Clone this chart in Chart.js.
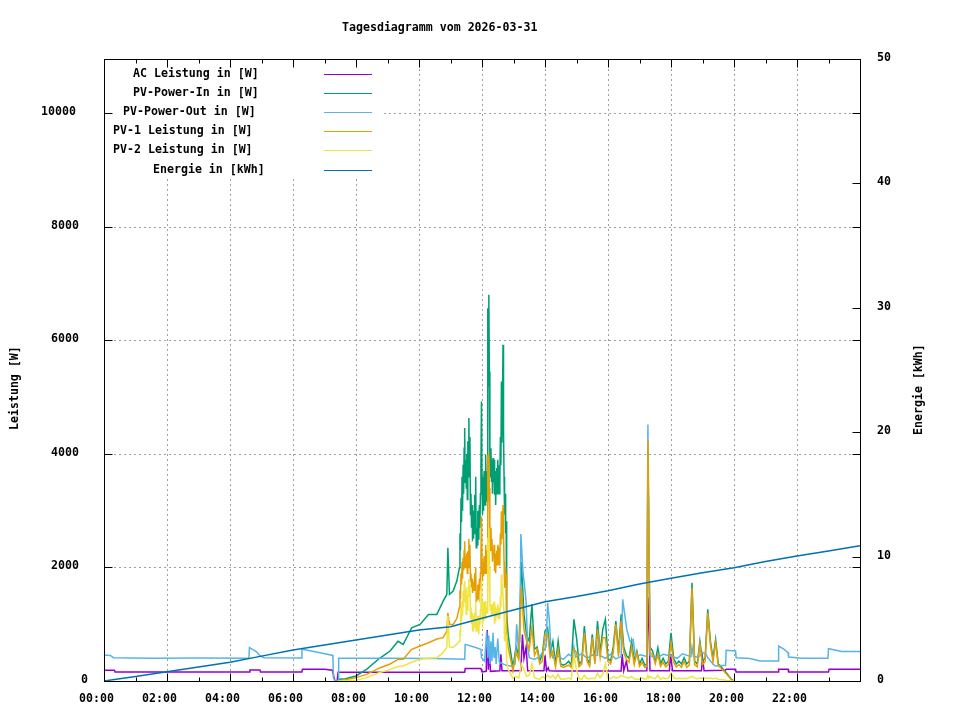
<!DOCTYPE html>
<html>
<head>
<meta charset="utf-8">
<title>Tagesdiagramm vom 2026-03-31</title>
<script src="https://cdn.jsdelivr.net/npm/chart.js@4.4.1/dist/chart.umd.min.js"></script>
<style>
  html, body { margin: 0; padding: 0; background: #fff; }
  #wrap { width: 960px; height: 720px; }
</style>
</head>
<body>
<div id="wrap"><canvas id="dayChart" width="960" height="720"></canvas></div>
<script>
// Tagesdiagramm - values

const titleText = 'Tagesdiagramm vom 2026-03-31';
const yTitle = 'Leistung [W]';
const y2Title = 'Energie [kWh]';

// axis ticks
const xMajorHours = [0, 2, 4, 6, 8, 10, 12, 14, 16, 18, 20, 22, 24];
const xMinorHours = [1, 3, 5, 7, 9, 11, 13, 15, 17, 19, 21, 23];
const xLabels = ['00:00', '02:00', '04:00', '06:00', '08:00', '10:00', '12:00', '14:00', '16:00', '18:00', '20:00', '22:00', ''];
const yTicks = [0, 2000, 4000, 6000, 8000, 10000];
const y2Ticks = [0, 10, 20, 30, 40, 50];

// AC Leistung [W]
const acTimes = ['00:00','00:20','00:21','04:37','04:38','04:57','04:58','06:17','06:18','07:00','07:15','07:18','07:20','07:24','07:26','11:27','11:28','11:58','12:00','12:08','12:10','12:12','12:14','12:16','12:34','12:36','12:38','13:14','13:17','13:20','13:24','13:27','13:58','14:00','14:03','14:06','14:08','14:20','16:25','16:27','16:30','16:35','16:38','17:14','17:16','17:18','17:20','17:57','17:59','18:03','18:58','19:00','19:03','19:43','19:45','20:03','20:04','21:24','21:25','21:43','21:44','23:00','23:01','24:00'];
const acW = [188,188,160,160,196,196,160,160,205,205,190,70,0,0,155,155,220,220,160,170,900,200,600,170,180,470,180,180,820,400,600,180,180,450,180,234,180,176,176,475,180,350,176,180,1470,1000,180,180,470,180,180,410,180,188,205,205,158,158,205,205,158,158,205,205];

// PV-Power-In, PV-1, PV-2 share the same time stamps
const pvTimes = [
  '07:25','07:27','07:40','08:00','08:20','08:45','09:05','09:20','09:30','09:46','10:02','10:18','10:34','10:46','10:53','10:55','10:58','11:05','11:12',
  '11:17','11:18','11:19','11:20','11:21','11:22','11:23','11:24','11:25','11:26',
  '11:27','11:28','11:29','11:30','11:31','11:32','11:33','11:34','11:35','11:36',
  '11:37','11:38','11:39','11:40','11:41','11:42','11:43','11:44','11:45','11:46',
  '11:47','11:48','11:49','11:50','11:51','11:52','11:53','11:54','11:55','11:56',
  '11:57','11:58','11:59',
  '12:00','12:01','12:02','12:03','12:04','12:05','12:06','12:07','12:08','12:09',
  '12:10','12:11','12:12','12:13','12:14','12:15','12:16','12:17','12:18','12:19',
  '12:20','12:21','12:22','12:23','12:24','12:25','12:26','12:27','12:28','12:29',
  '12:30','12:31','12:32','12:33','12:34','12:35','12:36','12:37','12:38','12:39',
  '12:40','12:41','12:42','12:43','12:44','12:45','12:46','12:47',
  '12:50','12:59',
  '13:00','13:05','13:10','13:15','13:20','13:25','13:30','13:35','13:40','13:45','13:50','13:55','14:00','14:05','14:10','14:15','14:20','14:25','14:30','14:35','14:40','14:45','14:50','14:55','15:00','15:05','15:10','15:15','15:20','15:25','15:30','15:35','15:40','15:45','15:50','15:55','16:00','16:05','16:10','16:15','16:20','16:25','16:30','16:35','16:40','16:45','16:50','16:55','17:00','17:05','17:10','17:14','17:16','17:18','17:20','17:25','17:30','17:35','17:40','17:45','17:50','17:55','18:00','18:05','18:10','18:15','18:20','18:25','18:30','18:35','18:40','18:45','18:50','18:55','19:00','19:05','19:10','19:15','19:20','19:25','19:30','19:35','19:40','19:45','19:50','19:55','20:00'];
const pvInW = [
  0,30,40,88,205,400,528,700,645,938,997,1173,1173,1408,1525,2346,1525,1584,1760,
  1994,2600,2300,3226,2800,3600,3000,3812,3300,4100,
  4457,3500,3900,3400,4000,3200,4223,3600,4633,3700,
  4300,2932,3300,2700,3100,2500,2522,3000,2600,3284,
  2800,3600,2346,2700,2400,3000,2500,2639,3100,2700,
  3300,3800,4927,
  3500,2932,3600,3000,3700,3400,3100,3988,3300,3700,
  3167,6569,5200,6804,5455,4000,3600,4100,3519,3900,
  3300,3930,3500,3900,3284,3700,3100,3600,3754,3300,
  3900,3519,3800,3300,3519,4300,3800,5279,4200,4800,
  5924,4400,3600,2932,3300,2600,2815,1173,
  800,235,
  300,600,450,2100,1170,800,700,1350,560,600,350,470,880,940,500,700,300,704,300,280,300,350,280,1086,763,300,350,968,400,300,822,350,1056,500,910,1086,400,350,600,1056,500,1174,600,450,400,700,350,528,300,400,280,300,4000,2400,600,528,350,587,300,400,300,350,850,400,300,350,300,411,300,350,1731,350,300,704,350,400,1262,704,400,733,300,260,200,150,90,30,0];
const pv1W = [
  0,0,20,60,117,230,300,380,382,558,616,675,740,763,880,1203,1000,997,1100,
  1300,1600,1450,1900,1700,2100,1800,2170,1950,2300,
  2463,2000,2200,2053,2250,1900,2287,2000,2500,2100,
  2400,1760,1900,1650,1800,1550,1642,1750,1600,1900,
  1700,2000,1408,1550,1450,1700,1500,1466,1800,1600,
  1900,2200,2900,
  2100,1760,2100,1850,2200,2053,1900,2400,2000,2300,
  1900,3988,3200,4000,3400,2600,2300,2700,2346,2500,
  2100,2300,2200,2400,1935,2250,1900,2200,2300,2050,
  2400,2346,2300,2050,2200,2600,2400,2991,2500,2800,
  3100,2600,2100,1642,2000,1700,1877,800,
  587,176,
  230,500,380,1640,900,700,560,940,450,560,300,350,820,820,420,530,250,560,260,240,260,280,240,563,500,250,300,850,350,260,763,300,910,420,763,763,340,300,500,1000,430,1056,500,380,330,600,290,500,260,330,240,260,4237,2400,500,470,300,470,260,330,250,290,675,330,250,290,240,350,240,280,1643,290,250,650,290,340,1203,650,340,680,270,230,180,130,80,25,0];
const pv2W = [
  0,0,5,15,59,150,200,255,264,330,382,400,411,499,600,1150,600,590,650,
  700,900,800,1300,1050,1400,1150,1584,1300,1700,
  1760,1400,1600,1173,1650,1250,1466,1500,1800,1500,
  1700,1114,1300,1000,1200,900,880,1150,950,1200,
  1000,1400,880,1050,900,1150,950,821,1150,1000,
  1250,1450,1760,
  1300,938,1400,1050,1400,1300,1100,1408,1200,1300,
  1200,2522,1900,2700,2000,1350,1250,1350,1173,1350,
  1150,1300,1250,1400,1000,1300,1050,1250,1200,1150,
  1350,1100,1300,1150,1100,1500,1300,1877,1500,1700,
  1500,1500,1200,700,1000,750,821,350,
  200,50,
  60,80,50,300,200,80,100,300,60,40,30,80,50,100,60,100,40,120,30,30,40,50,30,450,200,40,30,100,40,40,50,40,140,60,120,300,50,40,80,50,60,100,80,60,50,80,40,30,30,50,30,40,100,50,80,50,40,100,30,60,40,50,150,60,40,50,40,50,40,60,80,50,40,50,50,50,50,50,40,50,30,20,20,10,5,0,0];

// PV-Power-Out [W]
const pvOutTimes = ['00:00','00:12','00:18','01:30','03:00','04:36','04:37','04:42','04:50','04:58','05:05','06:16','06:17','06:25','06:45','07:05','07:16','07:17','07:20','07:26','07:27','09:00','10:30','11:27','11:28','11:45','11:58','11:59','12:05','12:09','12:11','12:13','12:15','12:17','12:19','12:21','12:23','12:25','12:27','12:30','12:33','12:45','12:56','13:03','13:06','13:09','13:12','13:14','13:18','13:24','13:27','13:30','13:40','13:50','14:02','14:05','14:08','14:12','14:15','14:22','14:35','14:45','14:53','14:55','14:58','15:10','15:20','15:30','15:40','15:42','15:45','15:55','16:05','16:15','16:25','16:28','16:31','16:36','16:42','16:48','16:52','17:02','17:14','17:16','17:18','17:20','17:32','17:45','18:00','18:12','18:22','18:38','18:40','18:43','18:52','19:00','19:06','19:10','19:20','19:25','19:44','19:45','20:03','20:04','20:30','20:50','21:24','21:25','21:35','21:43','21:44','22:10','22:59','23:00','23:10','23:25','24:00'];
const pvOutW = [460,450,410,400,405,400,590,560,520,440,410,405,560,545,510,470,450,60,0,0,400,400,395,385,645,600,560,410,350,880,400,800,300,700,350,850,400,600,300,750,330,280,260,300,1000,600,700,2590,1935,1408,587,410,380,430,600,1378,1100,500,410,450,380,470,420,600,420,480,400,460,450,760,450,400,470,390,430,1438,1232,900,700,733,430,460,430,4519,2450,450,400,470,440,400,480,430,600,430,420,500,480,411,300,264,276,540,530,411,395,352,352,616,560,500,422,400,400,570,550,520,520];

// Energie [kWh]
const energyTimes = ['00:00','01:00','02:00','03:00','04:00','05:00','06:00','07:00','08:00','09:00','10:00','11:00','12:00','13:00','14:00','15:00','16:00','17:00','18:00','19:00','20:00','21:00','22:00','23:00','24:00'];
const energyKWh = [0,0.37,0.75,1.12,1.5,2.0,2.49,2.9,3.3,3.7,4.1,4.36,5.04,5.7,6.37,6.8,7.26,7.8,8.26,8.7,9.1,9.6,10.05,10.45,10.88];

const seriesNames = ['AC Leistung in [W]', 'PV-Power-In in [W]', 'PV-Power-Out in [W]', 'PV-1 Leistung in [W]', 'PV-2 Leistung in [W]', 'Energie in [kWh]'];
const seriesColors = ['#9400d3', '#009e73', '#56b4e9', '#e69f00', '#f0e442', '#0072b2'];

const FONT = 'bold 11.6px "DejaVu Sans Mono", "Liberation Mono", monospace';
const CHAR_W = 10; // gnuplot's own width guess per character, used for justification

function hrs(t) {
    const p = t.split(':');
    return Number(p[0]) + Number(p[1]) / 60;
}

function toPoints(times, values) {
    if (times.length !== values.length) {
        console.warn('length mismatch', times.length, values.length);
    }
    return times.map((t, i) => ({ x: hrs(t), y: values[i] }));
}

function hline(ctx, x1, x2, y) {
    ctx.beginPath();
    ctx.moveTo(x1, y);
    ctx.lineTo(x2, y);
    ctx.stroke();
}

function vline(ctx, x, y1, y2) {
    ctx.beginPath();
    ctx.moveTo(x, y1);
    ctx.lineTo(x, y2);
    ctx.stroke();
}

const gnuplotFrame = {
    id: 'gnuplotFrame',
    beforeDatasetsDraw(chart) {
        const { ctx, chartArea: a, scales } = chart;
        ctx.save();
        ctx.strokeStyle = '#a0a0a0';
        ctx.lineWidth = 1;
        ctx.setLineDash([2, 3]);
        xMajorHours.forEach(v => {
            if (v <= 0 || v >= 24) return;
            const x = Math.round(scales.x.getPixelForValue(v)) + 0.5;
            vline(ctx, x, a.top, a.bottom);
        });
        yTicks.forEach(v => {
            if (v <= 0) return;
            const y = Math.round(scales.y.getPixelForValue(v)) + 0.5;
            hline(ctx, a.left, a.right, y);
        });
        ctx.restore();
    },
    afterDatasetsDraw(chart) {
        const { ctx, chartArea: a, scales } = chart;
        ctx.save();
        ctx.setLineDash([]);

        // key box, opaque
        ctx.fillStyle = '#fff';
        ctx.fillRect(a.left + 1, a.top + 1, 277, 119);
        ctx.font = FONT;
        ctx.textBaseline = 'alphabetic';
        ctx.textAlign = 'left';
        seriesNames.forEach((name, i) => {
            const rowY = Math.round(a.top + 15 + i * 19.1) + 0.5;
            ctx.fillStyle = '#000';
            ctx.fillText(name, a.left + 209 - CHAR_W * name.length, rowY + 2);
            ctx.strokeStyle = seriesColors[i];
            ctx.lineWidth = 1.2;
            hline(ctx, a.left + 220, a.left + 268, rowY);
        });

        // border
        ctx.strokeStyle = '#000';
        ctx.lineWidth = 1;
        const L = Math.round(a.left) + 0.5, R = Math.round(a.right) + 0.5;
        const T = Math.round(a.top) + 0.5, B = Math.round(a.bottom) + 0.5;
        ctx.strokeRect(L, T, R - L, B - T);

        // x ticks, bottom and mirrored on top
        xMajorHours.forEach(v => {
            const x = Math.round(scales.x.getPixelForValue(v)) + 0.5;
            vline(ctx, x, B, B - 8);
            vline(ctx, x, T, T + 8);
        });
        xMinorHours.forEach(v => {
            const x = Math.round(scales.x.getPixelForValue(v)) + 0.5;
            vline(ctx, x, B, B - 4);
            vline(ctx, x, T, T + 4);
        });
        // y ticks, left and mirrored on right
        yTicks.forEach(v => {
            const y = Math.round(scales.y.getPixelForValue(v)) + 0.5;
            hline(ctx, L, L + 8, y);
            hline(ctx, R, R - 8, y);
        });
        // y2 ticks on right
        y2Ticks.forEach(v => {
            const y = Math.round(scales.y2.getPixelForValue(v)) + 0.5;
            hline(ctx, R, R - 8, y);
        });

        // tick labels
        ctx.fillStyle = '#000';
        xMajorHours.forEach((v, i) => {
            const lab = xLabels[i];
            if (!lab) return;
            const x = scales.x.getPixelForValue(v);
            ctx.fillText(lab, Math.round(x - CHAR_W * lab.length / 2), a.bottom + 21);
        });
        yTicks.forEach(v => {
            const lab = String(v);
            const y = scales.y.getPixelForValue(v);
            ctx.fillText(lab, a.left - 13 - CHAR_W * lab.length, Math.round(y) + 2);
        });
        y2Ticks.forEach(v => {
            const y = scales.y2.getPixelForValue(v);
            ctx.fillText(String(v), a.right + 17, Math.round(y) + 2);
        });

        // title
        const cx = (a.left + a.right) / 2;
        ctx.fillText(titleText, Math.round(cx - CHAR_W * titleText.length / 2), 31);

        // axis titles, rotated
        const cy = (a.top + a.bottom) / 2;
        ctx.save();
        ctx.translate(18, Math.round(cy + CHAR_W * yTitle.length / 2));
        ctx.rotate(-Math.PI / 2);
        ctx.fillText(yTitle, 0, 0);
        ctx.restore();
        ctx.save();
        ctx.translate(922, Math.round(cy + CHAR_W * y2Title.length / 2));
        ctx.rotate(-Math.PI / 2);
        ctx.fillText(y2Title, 0, 0);
        ctx.restore();

        ctx.restore();
    }
};

function makeDataset(i, data, axis, order) {
    return {
        label: seriesNames[i],
        data: data,
        borderColor: seriesColors[i],
        backgroundColor: seriesColors[i],
        borderWidth: 1.5,
        pointRadius: 0,
        tension: 0,
        fill: false,
        yAxisID: axis,
        order: order
    };
}

new Chart(document.getElementById('dayChart').getContext('2d'), {
    type: 'line',
    data: {
        datasets: [
            makeDataset(0, toPoints(acTimes, acW), 'y', 6),
            makeDataset(1, toPoints(pvTimes, pvInW), 'y', 5),
            makeDataset(2, toPoints(pvOutTimes, pvOutW), 'y', 4),
            makeDataset(3, toPoints(pvTimes, pv1W), 'y', 3),
            makeDataset(4, toPoints(pvTimes, pv2W), 'y', 2),
            makeDataset(5, toPoints(energyTimes, energyKWh), 'y2', 1)
        ]
    },
    options: {
        responsive: false,
        maintainAspectRatio: false,
        animation: false,
        events: [],
        layout: { padding: { top: 59, left: 0, right: 0, bottom: 0 } },
        plugins: {
            legend: { display: false },
            title: { display: false },
            tooltip: { enabled: false }
        },
        scales: {
            x: {
                type: 'linear',
                min: 0,
                max: 24,
                grid: { display: false },
                border: { display: false },
                ticks: { display: false },
                afterFit: s => { s.height = 39; }
            },
            y: {
                position: 'left',
                min: 0,
                max: 10960,
                grid: { display: false },
                border: { display: false },
                ticks: { display: false },
                afterFit: s => { s.width = 104; }
            },
            y2: {
                position: 'right',
                min: 0,
                max: 50,
                grid: { display: false },
                border: { display: false },
                ticks: { display: false },
                afterFit: s => { s.width = 100; }
            }
        }
    },
    plugins: [gnuplotFrame]
});
</script>
</body>
</html>
